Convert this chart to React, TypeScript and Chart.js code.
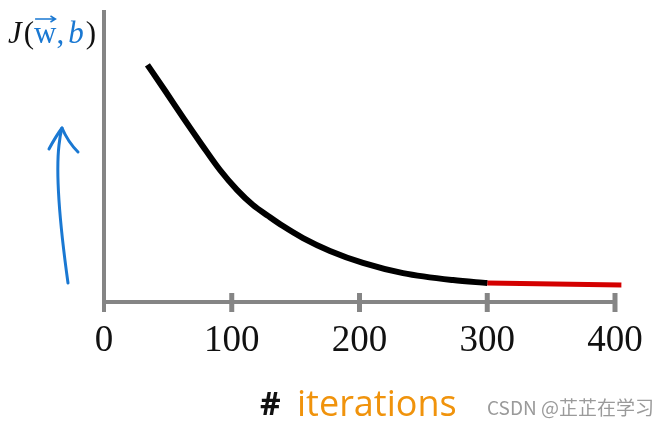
import React, { useEffect, useRef } from "react";
import { Chart, registerables } from "chart.js";

Chart.register(...registerables);

// Data
const iterations = [34, 48.5, 62.6, 76.7, 90.8, 104.1, 116.6, 128.4, 140.1, 155.8, 176.9, 202.7, 234.1, 273.2, 300];
const costDescent = [81.2, 71.9, 62.7, 53.8, 45.2, 38.4, 33.2, 29.5, 26.0, 21.9, 17.5, 13.4, 9.9, 7.5, 6.5];
const flatIterations = [300, 405];
const flatCost = [6.5, 5.8];
const xTickValues = [0, 100, 200, 300, 400];
const xTitleHash = "#";
const xTitleWord = "iterations";
const watermark = "CSDN @芷芷在学习";

const AXIS_GREY = "#858585";
const BLUE = "#1a78d2";
const ORANGE = "#f0930c";

const axesPlugin = {
  id: "customAxes",
  beforeDatasetsDraw(chart: any) {
    const { ctx, scales } = chart;
    const xs = scales.x;
    const ys = scales.y;
    const x0 = xs.getPixelForValue(0);
    const y0 = ys.getPixelForValue(0);
    const yTop = ys.getPixelForValue(100);
    ctx.save();
    ctx.strokeStyle = AXIS_GREY;
    ctx.lineCap = "butt";
    // y axis
    ctx.lineWidth = 4;
    ctx.beginPath();
    ctx.moveTo(x0, yTop);
    ctx.lineTo(x0, y0 + 10);
    ctx.stroke();
    // x axis
    ctx.beginPath();
    ctx.moveTo(x0, y0);
    ctx.lineTo(xs.getPixelForValue(400) + 2, y0);
    ctx.stroke();
    // ticks
    ctx.lineWidth = 5;
    xTickValues.forEach((v) => {
      if (v === 0) return;
      const px = xs.getPixelForValue(v);
      ctx.beginPath();
      ctx.moveTo(px, y0 - 9);
      ctx.lineTo(px, y0 + 10);
      ctx.stroke();
    });
    // tick labels
    ctx.fillStyle = "#111";
    ctx.font = "37px 'Liberation Serif', serif";
    ctx.textAlign = "center";
    ctx.textBaseline = "middle";
    xTickValues.forEach((v) => {
      const px = xs.getPixelForValue(v);
      ctx.fillText(String(v), px, y0 + 39);
    });
    ctx.restore();
  },
  afterDraw(chart: any) {
    const { ctx } = chart;
    ctx.save();
    // y label J(w, b)
    ctx.textBaseline = "alphabetic";
    ctx.textAlign = "left";
    const base = 43;
    let x = 8;
    const seg = (t: string, font: string, color: string) => {
      ctx.font = font;
      ctx.fillStyle = color;
      ctx.fillText(t, x, base);
      const w = ctx.measureText(t).width;
      const sx = x;
      x += w;
      return { sx, w };
    };
    const f = "31px 'Liberation Serif', serif";
    const fi = "italic 31px 'Liberation Serif', serif";
    seg("J", fi, "#111");
    x += 2;
    seg("(", f, "#111");
    const wSeg = seg("w", f, BLUE);
    seg(",", f, BLUE);
    x += 4;
    seg("b", fi, BLUE);
    x += 2;
    seg(")", f, "#111");
    // vector arrow above w
    ctx.strokeStyle = BLUE;
    ctx.lineWidth = 1.5;
    const ay = base - 24;
    ctx.beginPath();
    ctx.moveTo(wSeg.sx + 1, ay);
    ctx.lineTo(wSeg.sx + wSeg.w - 1, ay);
    ctx.moveTo(wSeg.sx + wSeg.w - 6, ay - 3);
    ctx.lineTo(wSeg.sx + wSeg.w - 1, ay);
    ctx.lineTo(wSeg.sx + wSeg.w - 6, ay + 3);
    ctx.stroke();

    // hand-drawn blue arrow
    ctx.strokeStyle = BLUE;
    ctx.lineWidth = 3;
    ctx.lineCap = "round";
    ctx.lineJoin = "round";
    ctx.beginPath();
    ctx.moveTo(68, 283);
    ctx.bezierCurveTo(62, 240, 55, 180, 59, 145);
    ctx.quadraticCurveTo(60, 135, 62, 128);
    ctx.stroke();
    ctx.beginPath();
    ctx.moveTo(49, 149);
    ctx.quadraticCurveTo(56, 136, 62, 128);
    ctx.quadraticCurveTo(68, 142, 78, 152);
    ctx.stroke();

    // x title
    ctx.textBaseline = "middle";
    ctx.font = "bold 32px 'Open Sans', sans-serif";
    ctx.fillStyle = "#111";
    ctx.fillText(xTitleHash, 260, 406);
    ctx.font = "36px 'Open Sans', sans-serif";
    ctx.fillStyle = ORANGE;
    ctx.fillText(xTitleWord, 297, 406);

    // watermark
    ctx.font = "19px 'Noto Sans CJK SC', 'Noto Sans', sans-serif";
    ctx.fillStyle = "#9a9a9a";
    ctx.fillText(watermark, 487, 408);
    ctx.restore();
  },
};

export default function App() {
  const ref = useRef<HTMLCanvasElement | null>(null);
  useEffect(() => {
    if (!ref.current) return;
    const chart = new Chart(ref.current, {
      type: "line",
      data: {
        datasets: [
          {
            data: iterations.map((v, i) => ({ x: v, y: costDescent[i] })),
            borderColor: "#000",
            borderWidth: 6,
            pointRadius: 0,
            cubicInterpolationMode: "monotone",
            borderCapStyle: "butt",
            clip: false,
          },
          {
            data: flatIterations.map((v, i) => ({ x: v, y: flatCost[i] })),
            borderColor: "#d40000",
            borderWidth: 5,
            pointRadius: 0,
            borderCapStyle: "butt",
            clip: false,
          },
        ],
      },
      options: {
        animation: false,
        responsive: false,
        maintainAspectRatio: false,
        layout: { padding: { left: 104, right: 55, top: 10, bottom: 129 } },
        plugins: { legend: { display: false }, tooltip: { enabled: false } },
        scales: {
          x: { type: "linear", min: 0, max: 400, display: false },
          y: { type: "linear", min: 0, max: 100, display: false },
        },
      },
      plugins: [axesPlugin],
    } as any);
    return () => chart.destroy();
  }, []);
  return (
    <div style={{ position: "absolute", left: 0, top: 0, width: 670, height: 431, background: "#fff" }}>
      <canvas ref={ref} width={670} height={431} style={{ display: "block" }} />
    </div>
  );
}
